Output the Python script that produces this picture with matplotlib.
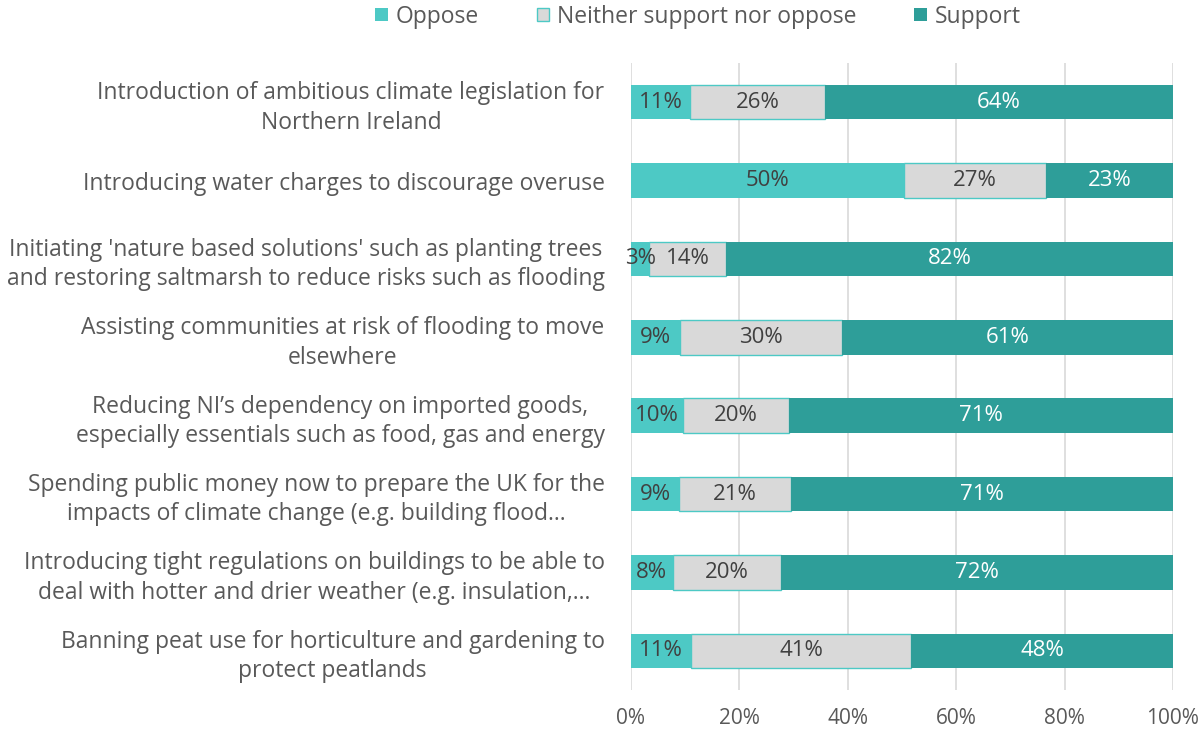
import matplotlib.pyplot as plt
from matplotlib.patches import Patch

# survey items, top to bottom
ITEMS = [
    "Introduction of ambitious climate legislation for\nNorthern Ireland",
    "Introducing water charges to discourage overuse",
    "Initiating 'nature based solutions' such as planting trees\nand restoring saltmarsh to reduce risks such as flooding",
    "Assisting communities at risk of flooding to move\nelsewhere",
    "Reducing NI\u2019s dependency on imported goods,\nespecially essentials such as food, gas and energy",
    "Spending public money now to prepare the UK for the\nimpacts of climate change (e.g. building flood\u2026",
    "Introducing tight regulations on buildings to be able to\ndeal with hotter and drier weather (e.g. insulation,\u2026",
    "Banning peat use for horticulture and gardening to\nprotect peatlands",
]

# shares (fraction of respondents)
OPPOSE = [0.109, 0.504, 0.034, 0.090, 0.096, 0.089, 0.077, 0.111]
NEITHER = [0.249, 0.262, 0.141, 0.299, 0.196, 0.206, 0.200, 0.406]
SUPPORT = [0.642, 0.234, 0.825, 0.611, 0.708, 0.705, 0.723, 0.483]

# labels as printed on the bars
OPPOSE_LBL = ["11%", "50%", "3%", "9%", "10%", "9%", "8%", "11%"]
NEITHER_LBL = ["26%", "27%", "14%", "30%", "20%", "21%", "20%", "41%"]
SUPPORT_LBL = ["64%", "23%", "82%", "61%", "71%", "71%", "72%", "48%"]

C_OPP = "#4dc9c5"
C_NEI = "#d9d9d9"
C_SUP = "#2e9e99"
TXT = "#595959"
DARK = "#404040"

plt.rcParams["font.family"] = ["Open Sans", "DejaVu Sans"]

fig = plt.figure(figsize=(11.98, 7.31), dpi=100)
ax = fig.add_axes([0.5267, 0.0561, 0.4524, 0.8577])

y = list(range(len(ITEMS)))
h = 0.44
left_nei = OPPOSE
left_sup = [o + n for o, n in zip(OPPOSE, NEITHER)]

ax.barh(y, OPPOSE, height=h, color=C_OPP, zorder=2)
ax.barh(y, NEITHER, left=left_nei, height=h, color=C_NEI,
        edgecolor=C_OPP, linewidth=1.0, zorder=2)
ax.barh(y, SUPPORT, left=left_sup, height=h, color=C_SUP, zorder=2)

fs = 16.5
for i in y:
    ax.text(OPPOSE[i] / 2, i, OPPOSE_LBL[i], ha="center", va="center",
            fontsize=fs - 0.5, color=DARK, zorder=3)
    ax.text(left_nei[i] + NEITHER[i] / 2, i, NEITHER_LBL[i], ha="center",
            va="center", fontsize=fs - 0.5, color=DARK, zorder=3)
    ax.text(left_sup[i] + SUPPORT[i] / 2, i, SUPPORT_LBL[i], ha="center",
            va="center", fontsize=fs - 0.5, color="white", zorder=3)

ax.set_xlim(0, 1)
ax.set_ylim(len(ITEMS) - 0.5, -0.5)
ax.set_xticks([0, 0.2, 0.4, 0.6, 0.8, 1.0])
ax.set_xticklabels(["0%", "20%", "40%", "60%", "80%", "100%"])
ax.set_yticks(y)
ax.set_yticklabels(ITEMS, multialignment="center", linespacing=1.3)
ax.tick_params(axis="x", length=0, labelsize=15, labelcolor=TXT, pad=13)
ax.tick_params(axis="y", length=0, labelsize=fs, labelcolor=TXT, pad=19)
ax.grid(axis="x", color="#d9d9d9", linewidth=1.2, zorder=0)
for s in ax.spines.values():
    s.set_visible(False)

handles = [
    Patch(facecolor=C_OPP, label="Oppose"),
    Patch(facecolor=C_NEI, edgecolor=C_OPP, linewidth=1.0,
          label="Neither support nor oppose"),
    Patch(facecolor=C_SUP, label="Support"),
]
fig.legend(handles=handles, loc="upper center", bbox_to_anchor=(0.5826, 1.022),
           ncol=3, frameon=False, fontsize=fs, labelcolor=TXT,
           handlelength=0.55, handleheight=0.55, handletextpad=0.35,
           columnspacing=2.5)

fig.savefig("out.png", dpi=100)
